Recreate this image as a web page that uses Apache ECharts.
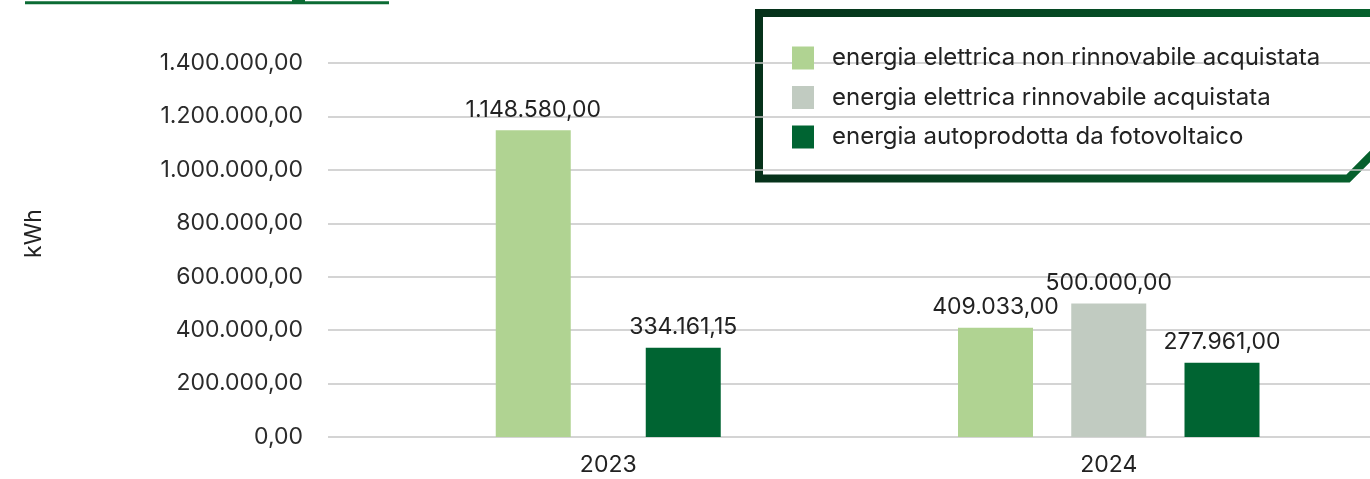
<!DOCTYPE html>
<html>
<head>
<meta charset="utf-8">
<style>
  html, body { margin: 0; padding: 0; background: #ffffff; }
  #chart { width: 1370px; height: 479px; }
</style>
<script src="https://cdn.jsdelivr.net/npm/echarts@6/dist/echarts.min.js"></script>
</head>
<body>
<div id="chart"></div>
<script>
// Energy sources per year (kWh)
const years = ['2023', '2024'];
const seriesNames = [
  'energia elettrica non rinnovabile acquistata',
  'energia elettrica rinnovabile acquistata',
  'energia autoprodotta da fotovoltaico'
];
const nonRenewable = [1148580.00, 409033.00];
const renewable = [null, 500000.00];
const selfProduced = [334161.15, 277961.00];
const yTicks = [0, 200000, 400000, 600000, 800000, 1000000, 1200000, 1400000];
const unitLabel = 'kWh';

const colors = ['#b0d392', '#c1cbc1', '#006432'];
const FONT = 'Inter';

// Italian number format: 1.148.580,00
function fmtIt(v) {
  const parts = Number(v).toFixed(2).split('.');
  parts[0] = parts[0].replace(/\B(?=(\d{3})+(?!\d))/g, '.');
  return parts[0] + ',' + parts[1];
}

const labelCfg = {
  show: true,
  position: 'top',
  distance: 9,
  fontFamily: FONT,
  fontSize: 23,
  color: '#222222',
  formatter: p => fmtIt(p.value)
};

function onlyYear(arr, idx) {
  return arr.map((v, i) => (i === idx && v != null) ? v : '-');
}

const valueSets = [nonRenewable, renewable, selfProduced];

// 2023 has no renewable purchase: its two bars are centred in the category
const series = [];
[0, 2].forEach(k => {
  series.push({
    name: seriesNames[k], type: 'bar', xAxisIndex: 2, yAxisIndex: 1,
    data: onlyYear(valueSets[k], 0),
    barWidth: 75, barGap: '100%',
    itemStyle: { color: colors[k] }, label: labelCfg, silent: true
  });
});
[0, 1, 2].forEach(k => {
  series.push({
    name: seriesNames[k], type: 'bar', xAxisIndex: 1, yAxisIndex: 1,
    data: onlyYear(valueSets[k], 1),
    barWidth: 75, barGap: '51%',
    itemStyle: { color: colors[k] }, label: labelCfg, silent: true
  });
});

const chart = echarts.init(document.getElementById('chart'), null, { renderer: 'canvas' });

const option = {
  animation: false,
  backgroundColor: '#ffffff',
  textStyle: { fontFamily: FONT },
  grid: [
    { left: 328, right: 0, top: 63, bottom: 42 },
    { left: 358, right: 11, top: 63, bottom: 42 }
  ],
  xAxis: [
    { type: 'category', gridIndex: 0, data: years, show: false },
    {
      type: 'category', gridIndex: 1, data: years,
      axisLine: { show: false }, axisTick: { show: false },
      axisLabel: { fontFamily: FONT, fontSize: 23, color: '#222222', margin: 17 }
    },
    { type: 'category', gridIndex: 1, data: years, show: false }
  ],
  yAxis: [
    {
      type: 'value', gridIndex: 0,
      min: yTicks[0], max: yTicks[yTicks.length - 1], interval: yTicks[1] - yTicks[0],
      axisLine: { show: false }, axisTick: { show: false },
      axisLabel: { fontFamily: FONT, fontSize: 23, color: '#2b2b2b', margin: 25, formatter: v => fmtIt(v) },
      splitLine: { lineStyle: { color: '#c6c6c6', width: 1.5 } }
    },
    {
      type: 'value', gridIndex: 1,
      min: yTicks[0], max: yTicks[yTicks.length - 1], interval: yTicks[1] - yTicks[0],
      show: false, splitLine: { show: false }
    }
  ],
  legend: {
    data: seriesNames,
    orient: 'vertical',
    left: 792, top: 46, padding: 0,
    itemWidth: 22, itemHeight: 23, itemGap: 15.5,
    icon: 'rect',
    selectedMode: false,
    textStyle: { fontFamily: FONT, fontSize: 24, color: '#222222', padding: [0, 0, 0, 13] }
  },
  graphic: [
    {
      type: 'polyline', silent: true,
      shape: { points: [[1500, 13], [759, 13], [759, 178.5], [1348, 178.5], [1430, 96.5]] },
      style: {
        fill: null, lineWidth: 8, lineJoin: 'miter',
        stroke: new echarts.graphic.LinearGradient(0, 0, 1, 0, [
          { offset: 0, color: '#06311a' },
          { offset: 1, color: '#066b31' }
        ], false)
      }
    },
    {
      type: 'line', silent: true,
      shape: { x1: 25, y1: 2.8, x2: 389, y2: 2.8 },
      style: { stroke: '#0b6b34', lineWidth: 3 }
    },
    {
      type: 'rect', silent: true,
      shape: { x: 292, y: 0, width: 13, height: 3 },
      style: { fill: '#0b6b34' }
    },
    {
      type: 'text', silent: true,
      x: 34, y: 233.5, rotation: Math.PI / 2,
      style: {
        text: unitLabel, fontFamily: FONT, fontSize: 23, fill: '#222222',
        align: 'center', verticalAlign: 'middle'
      }
    }
  ],
  series: series
};

chart.setOption(option);
</script>
</body>
</html>
